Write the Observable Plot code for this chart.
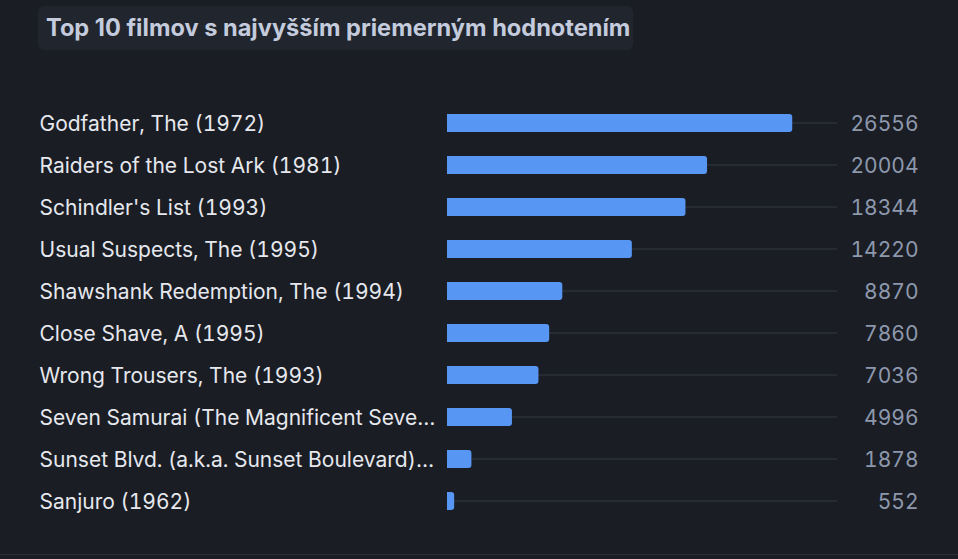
<!DOCTYPE html>
<html>
<head>
<meta charset="utf-8">
<script src="https://cdn.jsdelivr.net/npm/d3@7"></script>
<script src="https://cdn.jsdelivr.net/npm/@observablehq/plot@0.6"></script>
<style>
  html, body { margin: 0; padding: 0; background: #1a1d24; }
  body { width: 958px; height: 559px; overflow: hidden; font-family: Inter, "Noto Sans", sans-serif; }
  #head { height: 80px; padding: 6px 0 0 38px; box-sizing: border-box; }
  #title { display: inline-block; height: 44px; line-height: 44px; padding: 0 3px 0 8px; background: #21252e; border-radius: 6px;
           color: #c3cbdd; font-weight: 700; font-size: 23.6px; }
  #foot { border-top: 1px solid #2b303c; }
  svg text { font-variant-numeric: tabular-nums; }
</style>
</head>
<body>
<div id="head"><div id="title">Top 10 filmov s najvyšším priemerným hodnotením</div></div>
<div id="chart"></div>
<div id="foot"></div>
<script>
const titles = [
  "Godfather, The (1972)",
  "Raiders of the Lost Ark (1981)",
  "Schindler's List (1993)",
  "Usual Suspects, The (1995)",
  "Shawshank Redemption, The (1994)",
  "Close Shave, A (1995)",
  "Wrong Trousers, The (1993)",
  "Seven Samurai (The Magnificent Seve…",
  "Sunset Blvd. (a.k.a. Sunset Boulevard)…",
  "Sanjuro (1962)"
];
const values = [26556, 20004, 18344, 14220, 8870, 7860, 7036, 4996, 1878, 552];
const trackMax = 30000;

const data = titles.map((t, i) => ({title: t, value: values[i]}));

const chart = Plot.plot({
  width: 958,
  height: 474,
  marginTop: 22,
  marginBottom: 32,
  marginLeft: 447,
  marginRight: 40,
  style: {background: "transparent", fontFamily: "Inter, 'Noto Sans', sans-serif"},
  x: {domain: [0, trackMax], range: [447, 837], axis: null},
  y: {domain: titles, padding: 0, axis: null},
  marks: [
    Plot.barX(data, {x1: 0, x2: trackMax, y: "title", fill: "#262a33", insetTop: 20, insetBottom: 20}),
    Plot.barX(data, {x: "value", y: "title", fill: "#5896f4", insetTop: 12, insetBottom: 12, rx: 3}),
    Plot.barX(data, {x: "value", y: "title", fill: "#5896f4", insetTop: 12, insetBottom: 12, insetRight: 4}),
    Plot.text(data, {y: "title", text: "title", frameAnchor: "left", textAnchor: "start", dx: -408, dy: 1,
      fill: "#e6e8ee", fontSize: 21}),
    Plot.text(data, {y: "title", text: d => String(d.value), frameAnchor: "right", textAnchor: "end", dy: 1,
      fill: "#8d98ad", fontSize: 21})
  ]
});
document.getElementById("chart").appendChild(chart);
</script>
</body>
</html>
